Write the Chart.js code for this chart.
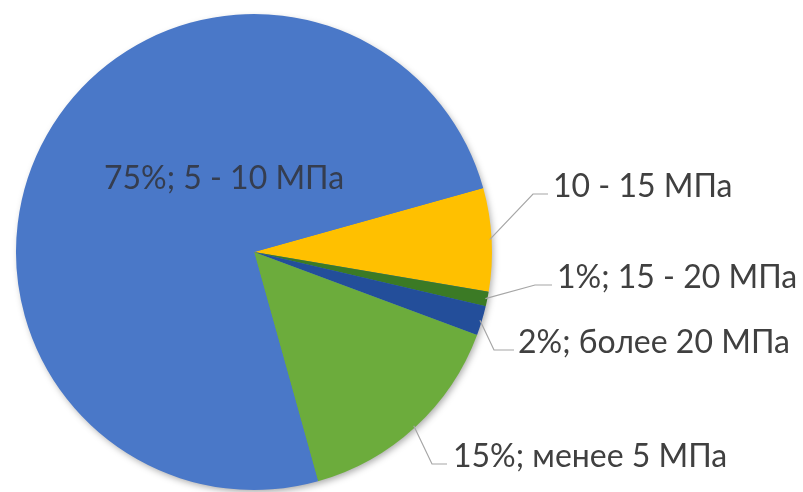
<!DOCTYPE html>
<html>
<head>
<meta charset="utf-8">
<script src="https://cdn.jsdelivr.net/npm/chart.js@4"></script>
<style>
  html, body { margin: 0; padding: 0; background: #ffffff; }
  #wrap { width: 803px; height: 492px; position: relative; }
</style>
</head>
<body>
<div id="wrap"><canvas id="c" width="803" height="492"></canvas></div>
<script>
const categories = ['10 - 15 МПа', '15 - 20 МПа', 'более 20 МПа', 'менее 5 МПа', '5 - 10 МПа'];
const values = [7, 1, 2, 15, 75];
const labelTexts = ['10 - 15 МПа', '1%; 15 - 20 МПа', '2%; более 20 МПа', '15%; менее 5 МПа', '75%; 5 - 10 МПа'];
const colors = ['#FFC000', '#3B7A25', '#234E9A', '#6CAC3C', '#4A78C8'];

// label placement (style): text-left / baseline offsets relative to the pie center, in px
const labelPlacement = [
  { dx: 299, dy: -55, elbow: 20, gap: 5, side: 'out' },
  { dx: 303, dy: 36, elbow: 22, gap: 5, side: 'out' },
  { dx: 264, dy: 101, elbow: 24, gap: 4, side: 'out' },
  { dx: 199, dy: 215, elbow: 21, gap: 6, side: 'out' },
  { dx: -30, dy: -63, side: 'in' }
];

const FONT = '32px Lato, "Open Sans", sans-serif';

const shadowPlugin = {
  id: 'pieShadow',
  beforeDatasetsDraw(chart) {
    const arc = chart.getDatasetMeta(0).data[0];
    if (!arc) return;
    const ctx = chart.ctx;
    ctx.save();
    ctx.shadowColor = 'rgba(0,0,0,0.35)';
    ctx.shadowBlur = 7;
    ctx.shadowOffsetX = 2;
    ctx.shadowOffsetY = 3;
    ctx.fillStyle = '#4A78C8';
    ctx.beginPath();
    ctx.arc(arc.x, arc.y, arc.outerRadius - 1, 0, Math.PI * 2);
    ctx.fill();
    ctx.restore();
  }
};

const labelPlugin = {
  id: 'pieLabels',
  afterDatasetsDraw(chart) {
    const meta = chart.getDatasetMeta(0);
    const ctx = chart.ctx;
    ctx.save();
    ctx.font = FONT;
    ctx.textBaseline = 'alphabetic';
    meta.data.forEach((arc, i) => {
      const p = labelPlacement[i];
      const cx = arc.x, cy = arc.y;
      const lx = cx + p.dx, ly = cy + p.dy;
      if (p.side === 'in') {
        ctx.fillStyle = '#353D4F';
        ctx.textAlign = 'center';
        ctx.fillText(labelTexts[i], lx, ly);
        return;
      }
      const mid = (arc.startAngle + arc.endAngle) / 2;
      const ax = cx + Math.cos(mid) * (arc.outerRadius - 2);
      const ay = cy + Math.sin(mid) * (arc.outerRadius - 2);
      const hy = ly - 3;
      ctx.strokeStyle = '#A6A6A6';
      ctx.lineWidth = 1.2;
      ctx.beginPath();
      ctx.moveTo(ax, ay);
      ctx.lineTo(lx - p.elbow, hy);
      ctx.lineTo(lx - p.gap, hy);
      ctx.stroke();
      ctx.fillStyle = '#404040';
      ctx.textAlign = 'left';
      ctx.fillText(labelTexts[i], lx, ly);
    });
    ctx.restore();
  }
};

new Chart(document.getElementById('c'), {
  type: 'pie',
  data: {
    labels: categories,
    datasets: [{
      data: values,
      backgroundColor: colors,
      borderWidth: 0
    }]
  },
  options: {
    responsive: false,
    animation: false,
    rotation: 74.4,
    layout: { padding: { left: 16, right: 311, top: 14, bottom: 2 } },
    plugins: {
      legend: { display: false },
      tooltip: { enabled: false }
    }
  },
  plugins: [shadowPlugin, labelPlugin]
});
</script>
</body>
</html>
